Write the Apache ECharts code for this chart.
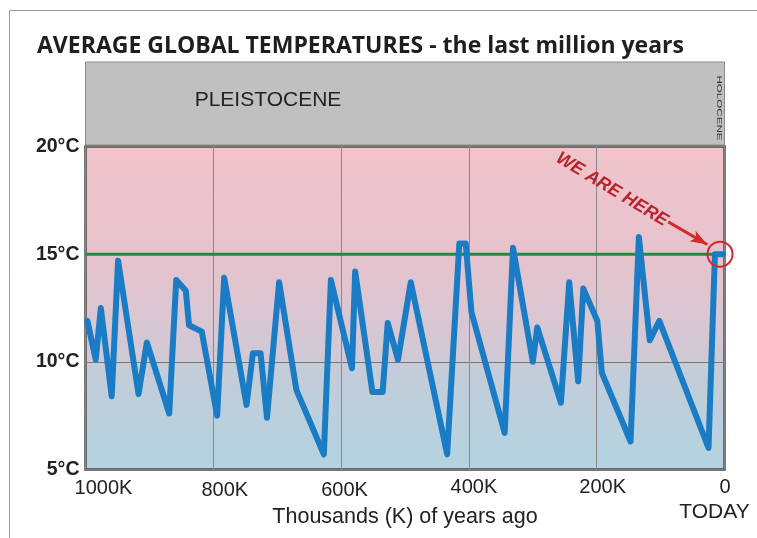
<!DOCTYPE html>
<html>
<head>
<meta charset="utf-8">
<script src="https://cdn.jsdelivr.net/npm/echarts@6/dist/echarts.min.js"></script>
<style>
html,body{margin:0;padding:0;background:#fff;}
#c{width:757px;height:538px;}
</style>
</head>
<body>
<div id="c"></div>
<script>
// ---- data ----
var yearsK = [997, 984, 976, 959, 949, 917, 904, 869, 858, 843, 838, 818, 794, 783, 748, 738, 726, 716, 697, 670, 627, 616, 583, 578, 551, 535, 527, 511, 491, 434, 415, 405, 396, 344, 331, 300, 293, 256, 243, 229, 221, 199, 192, 147, 134, 117, 102, 25, 15, 3];
var tempsC = [11.9, 10.1, 12.5, 8.4, 14.7, 8.5, 10.9, 7.6, 13.8, 13.3, 11.7, 11.4, 7.5, 13.9, 8.0, 10.4, 10.4, 7.4, 13.7, 8.7, 5.7, 13.8, 9.7, 14.2, 8.6, 8.6, 11.8, 10.1, 13.7, 5.7, 15.5, 15.5, 12.3, 6.7, 15.3, 10.0, 11.6, 8.1, 13.7, 9.1, 13.4, 11.9, 9.5, 6.3, 15.8, 11.0, 11.9, 6.0, 15.0, 15.0];
var xTickLabels = {0: '0', 200: '200K', 400: '400K', 600: '600K', 800: '800K', 1000: '1000K'};
var yTickSuffix = '°C';
var referenceTemp = 15;
var herePoint = [7, 15];
var arrowFrom = [88, 16.5];
var arrowTo = [27, 15.45];
var hereLabelAt = [176, 18.0];

var seriesData = yearsK.map(function (k, i) { return [k, tempsC[i]]; });

var chart = echarts.init(document.getElementById('c'), null, {renderer: 'canvas'});
var sans = '"Liberation Sans", Arial, Helvetica, sans-serif';

// per-label nudges (rich styles)
var rich = {
  k1000: {fontSize: 20, color: '#222', fontFamily: sans, padding: [1, 0, 0, 36]},
  k800: {fontSize: 20, color: '#222', fontFamily: sans, padding: [3, 0, 0, 23]},
  k600: {fontSize: 20, color: '#222', fontFamily: sans, padding: [3, 0, 0, 7]},
  k400: {fontSize: 20, color: '#222', fontFamily: sans, padding: [0, 0, 0, 10]},
  k200: {fontSize: 20, color: '#222', fontFamily: sans, padding: [0, 0, 0, 12]},
  k0: {fontSize: 20, color: '#222', fontFamily: sans, padding: [0, 0, 0, 1]},
  today: {fontSize: 21, color: '#222', fontFamily: sans, padding: [4, 20, 0, 0]}
};

var option = {
  animation: false,
  backgroundColor: '#fff',
  title: {
    text: 'AVERAGE GLOBAL TEMPERATURES - the last million years',
    left: 32,
    top: 30,
    textStyle: {fontFamily: '"Open Sans", "Noto Sans", sans-serif', fontWeight: 'bold', fontSize: 23, color: '#1e1e1e'}
  },
  grid: [
    {
      left: 85.5, right: 32.5, top: 146.5, bottom: 68.5,
      outerBoundsMode: 'none', containLabel: false,
      show: true,
      borderColor: '#4a4a4a', borderWidth: 2.5,
      backgroundColor: {
        type: 'linear', x: 0, y: 0, x2: 0, y2: 1,
        colorStops: [
          {offset: 0, color: '#f2c3cb'},
          {offset: 0.35, color: '#e6c3cd'},
          {offset: 0.66, color: '#cfc9d5'},
          {offset: 0.68, color: '#c4ccd8'},
          {offset: 1, color: '#b3d3e1'}
        ]
      }
    },
    {
      left: 85.5, right: 32.5, top: 62, height: 83,
      outerBoundsMode: 'none', containLabel: false,
      show: true, borderColor: '#8a8a8a', borderWidth: 1,
      backgroundColor: '#c0c0c0'
    }
  ],
  xAxis: [
    {
      type: 'value', gridIndex: 0, min: 0, max: 1000, interval: 200, inverse: true,
      axisLine: {show: false}, axisTick: {show: false},
      splitLine: {show: true, lineStyle: {color: '#888', width: 1}},
      axisLabel: {
        margin: 8,
        formatter: function (v) {
          var key = 'k' + v;
          if (v === 0) return '{k0|0}\n{today|TODAY}';
          return '{' + key + '|' + xTickLabels[v] + '}';
        },
        rich: rich
      },
      name: 'Thousands (K) of years ago',
      nameLocation: 'middle',
      nameGap: 36.5,
      nameMoveOverlap: false,
      nameTextStyle: {fontSize: 21.5, color: '#222', fontFamily: sans}
    },
    {type: 'value', gridIndex: 1, show: false, min: 0, max: 1}
  ],
  yAxis: [
    {
      type: 'value', gridIndex: 0, min: 5, max: 20, interval: 5,
      axisLine: {show: false}, axisTick: {show: false},
      splitLine: {show: true, lineStyle: {color: '#777', width: 1}},
      axisLabel: {
        margin: 6,
        formatter: function (v) { return v + yTickSuffix; },
        fontSize: 19.5, fontWeight: 'bold', color: '#222', fontFamily: sans
      }
    },
    {type: 'value', gridIndex: 1, show: false, min: 0, max: 1}
  ],
  series: [
    {
      type: 'line', xAxisIndex: 0, yAxisIndex: 0,
      data: [[1000, referenceTemp], [0, referenceTemp]],
      symbol: 'none', silent: true, z: 2,
      lineStyle: {color: '#218c3c', width: 3}
    },
    {
      type: 'line', xAxisIndex: 0, yAxisIndex: 0,
      data: seriesData,
      symbol: 'none', z: 3,
      lineStyle: {color: '#1a7cc4', width: 6, join: 'round', cap: 'round'},
      markPoint: {
        silent: true,
        data: [
          {
            coord: herePoint, symbol: 'circle', symbolSize: 25,
            itemStyle: {color: 'rgba(0,0,0,0)', borderColor: '#d8262e', borderWidth: 2},
            label: {show: false}
          },
          {
            coord: hereLabelAt, symbol: 'circle', symbolSize: 1,
            itemStyle: {color: 'rgba(0,0,0,0)'},
            label: {
              show: true, position: 'inside', formatter: 'WE ARE HERE', rotate: -31,
              fontSize: 18, fontStyle: 'italic', fontWeight: 'bold', color: '#b8242b', fontFamily: sans
            }
          }
        ]
      },
      markLine: {
        silent: true,
        symbol: ['none', 'arrow'],
        symbolSize: [9, 17],
        label: {show: false},
        lineStyle: {color: '#d42a2a', width: 3, type: 'solid'},
        data: [[{coord: arrowFrom}, {coord: arrowTo}]]
      }
    }
  ],
  graphic: [
    {
      type: 'rect', silent: true, z: -1,
      shape: {x: 9.5, y: 10.5, width: 760, height: 540},
      style: {fill: 'none', stroke: '#9a9a9a', lineWidth: 1}
    },
    {
      type: 'text', x: 268, y: 100, silent: true,
      style: {text: 'PLEISTOCENE', font: '21px ' + sans, fill: '#222', textAlign: 'center', textVerticalAlign: 'middle'}
    },
    {
      type: 'text', x: 719.5, y: 108, rotation: -Math.PI / 2, scaleX: 1.45, silent: true,
      style: {text: 'HOLOCENE', font: '8px ' + sans, fill: '#333', textAlign: 'center', textVerticalAlign: 'middle'}
    }
  ]
};
chart.setOption(option);
</script>
</body>
</html>
